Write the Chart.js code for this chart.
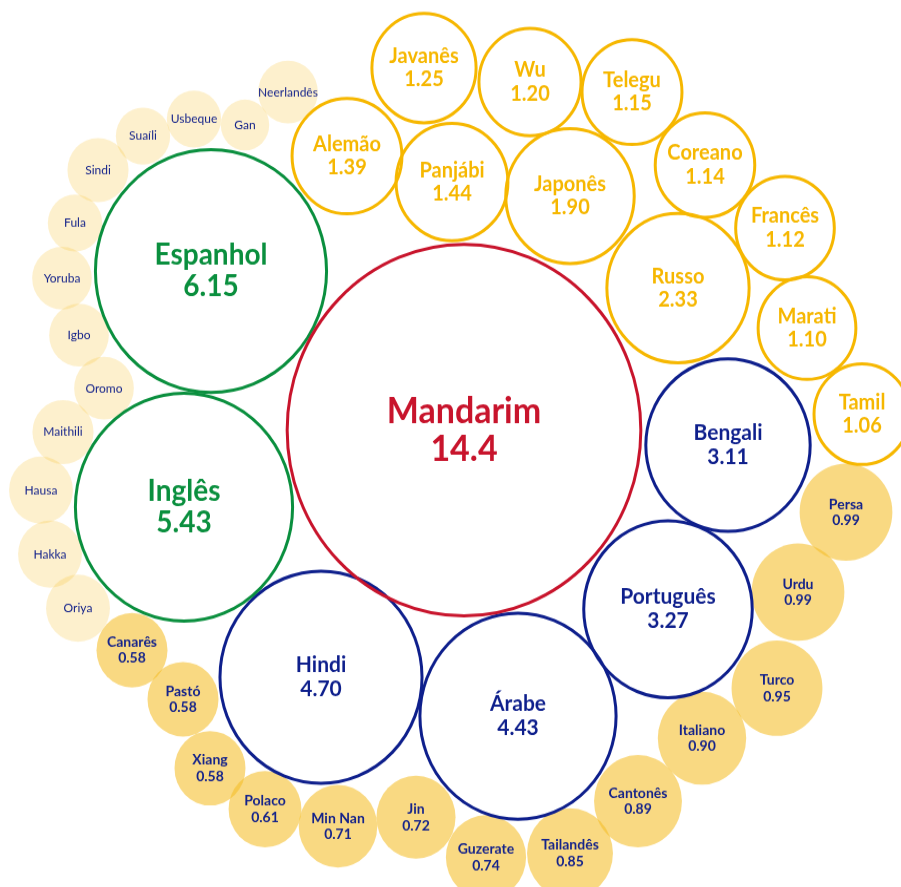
<!DOCTYPE html>
<html><head><meta charset="utf-8">
<script src="https://cdn.jsdelivr.net/npm/chart.js@4.4.1/dist/chart.umd.min.js"></script>
<style>
html{margin:0;padding:0;background:#fff;overflow:hidden;height:887px}
body{margin:0;padding:0;background:#fff;height:887px}
#wrap{width:901px;height:845px;transform:scaleY(1.05);transform-origin:0 0;}
canvas{display:block}
</style></head><body>
<div id="wrap"><canvas id="c" width="901" height="845"></canvas></div>
<script>
// ---- data (values in the chart's unit) ----
const topNames = ['Mandarim'];
const topValues = [14.4];
const topX = [464], topY = [430];

const greenNames = ['Espanhol', 'Inglês'];
const greenValues = [6.15, 5.43];
const greenX = [211, 184], greenY = [271, 507];

const navyNames = ['Bengali', 'Português', 'Árabe', 'Hindi'];
const navyValues = [3.11, 3.27, 4.43, 4.70];
const navyX = [728, 668, 518, 321], navyY = [445, 609, 716, 677];

const yellowNames = ['Javanês', 'Wu', 'Telegu', 'Alemão', 'Panjábi', 'Japonês', 'Coreano', 'Francês', 'Russo', 'Marati', 'Tamil'];
const yellowValues = [1.25, 1.20, 1.15, 1.39, 1.44, 1.90, 1.14, 1.12, 2.33, 1.10, 1.06];
const yellowX = [424, 530, 632, 347, 452, 570, 705, 785, 678, 807, 862];
const yellowY = [68, 82, 92, 156, 182, 196, 165, 228, 288, 328, 414];

const filledNames = ['Canarês', 'Pastó', 'Xiang', 'Polaco', 'Min Nan', 'Jin', 'Guzerate', 'Tailandês', 'Cantonês', 'Italiano', 'Turco', 'Urdu', 'Persa'];
const filledValues = [0.58, 0.58, 0.58, 0.61, 0.71, 0.72, 0.74, 0.85, 0.89, 0.90, 0.95, 0.99, 0.99];
const filledX = [132, 183, 210, 265, 338, 416, 486, 570, 638, 702, 777, 798, 846];
const filledY = [650, 699, 768, 809, 826, 817, 857, 853, 801, 738, 688, 592, 512];

const paleNames = ['Neerlandês', 'Gan', 'Usbeque', 'Suaíli', 'Sindi', 'Fula', 'Yoruba', 'Igbo', 'Oromo', 'Maithili', 'Hausa', 'Hakka', 'Oriya'];
const paleValues = [0.41, 0.27, 0.34, 0.34, 0.43, 0.34, 0.41, 0.41, 0.41, 0.43, 0.47, 0.47, 0.47];
const paleX = [288, 245, 194, 143, 98, 75, 62, 79, 104, 63, 41, 50, 78];
const paleY = [92, 125, 119, 136, 170, 223, 278, 335, 388, 432, 490, 554, 608];

// ---- build ----
const K = 46.6; // radius scale: r = K * sqrt(value)
function pts(xs, ys, vals) {
  return vals.map((v, i) => ({ x: xs[i], y: ys[i], r: K * Math.sqrt(v) }));
}
function fmt(v) { return v >= 10 ? v.toFixed(1) : v.toFixed(2); }

const RED = '#C8142C', GREEN = '#0A8F3E', NAVY = '#0E1F8C', YEL = '#F6B700', TXT = '#15238A';

const datasets = [
  { data: pts(topX, topY, topValues), names: topNames, vals: topValues, showVal: true,
    backgroundColor: 'rgba(255,255,255,0)', borderColor: RED, borderWidth: 3, order: 0,
    lbl: { color: RED, size: 34, weight: 'bold', gap: 36 } },
  { data: pts(greenX, greenY, greenValues), names: greenNames, vals: greenValues, showVal: true,
    backgroundColor: 'rgba(255,255,255,0)', borderColor: GREEN, borderWidth: 3, order: 1,
    lbl: { color: GREEN, size: 28, weight: 'bold', gap: 30.5 } },
  { data: pts(navyX, navyY, navyValues), names: navyNames, vals: navyValues, showVal: true,
    backgroundColor: 'rgba(255,255,255,0)', borderColor: NAVY, borderWidth: 3, order: 2,
    lbl: { color: NAVY, size: 21, weight: 'bold', gap: 23 } },
  { data: pts(yellowX, yellowY, yellowValues), names: yellowNames, vals: yellowValues, showVal: true,
    backgroundColor: 'rgba(255,255,255,0)', borderColor: YEL, borderWidth: 3, order: 3,
    lbl: { color: YEL, size: 20, weight: 'bold', gap: 22.5 } },
  { data: pts(filledX, filledY, filledValues), names: filledNames, vals: filledValues, showVal: true,
    backgroundColor: 'rgba(245,190,40,0.58)', borderWidth: 0, order: 4,
    lbl: { color: TXT, size: 14, weight: 'bold', gap: 15.5 } },
  { data: pts(paleX, paleY, paleValues), names: paleNames, vals: paleValues, showVal: false,
    backgroundColor: 'rgba(245,190,40,0.23)', borderWidth: 0, order: 5,
    lbl: { color: TXT, size: 12, weight: 'normal', gap: 0 } }
];

const labelPlugin = {
  id: 'bubbleLabels',
  afterDatasetsDraw(chart) {
    const ctx = chart.ctx;
    ctx.save();
    ctx.textAlign = 'center';
    ctx.textBaseline = 'middle';
    chart.data.datasets.forEach((ds, i) => {
      const meta = chart.getDatasetMeta(i);
      const s = ds.lbl;
      ctx.fillStyle = s.color;
      ctx.font = `${s.weight} ${s.size}px Lato, "Open Sans", sans-serif`;
      meta.data.forEach((el, j) => {
        if (ds.showVal) {
          ctx.fillText(ds.names[j], el.x, el.y - s.gap / 2);
          ctx.fillText(fmt(ds.vals[j]), el.x, el.y + s.gap / 2);
        } else {
          ctx.fillText(ds.names[j], el.x, el.y);
        }
      });
    });
    ctx.restore();
  }
};

new Chart(document.getElementById('c'), {
  type: 'bubble',
  data: { datasets },
  options: {
    responsive: false,
    animation: false,
    events: [],
    layout: { autoPadding: false, padding: 0 },
    plugins: { legend: { display: false }, tooltip: { enabled: false }, title: { display: false } },
    scales: {
      x: { type: 'linear', min: 0, max: 901, display: false },
      y: { type: 'linear', min: 0, max: 887, reverse: true, display: false }
    }
  },
  plugins: [labelPlugin]
});
</script>
</body></html>
